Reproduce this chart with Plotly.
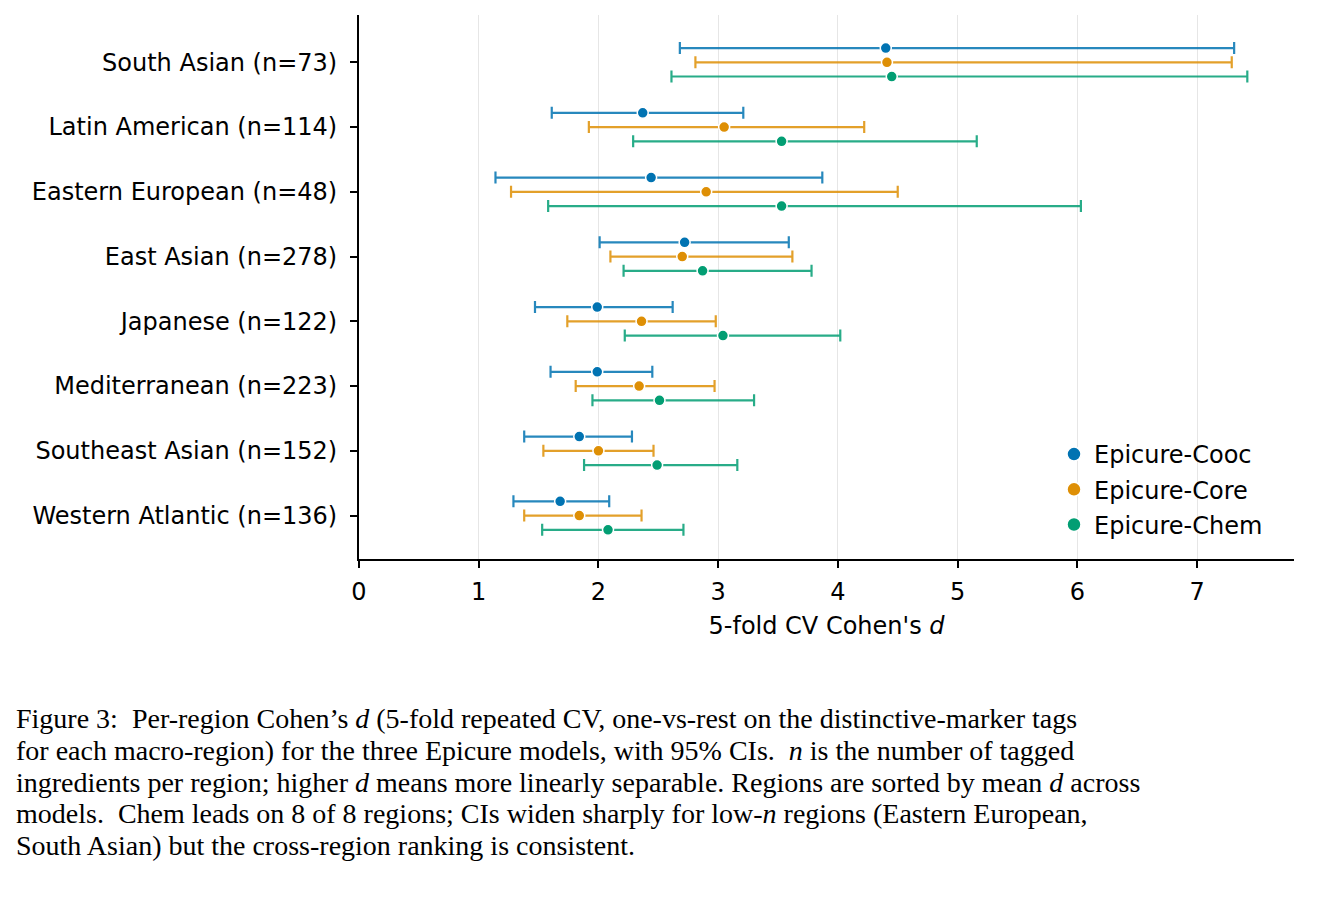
import plotly.graph_objects as go

regions = ["South Asian (n=73)", "Latin American (n=114)", "Eastern European (n=48)",
           "East Asian (n=278)", "Japanese (n=122)", "Mediterranean (n=223)",
           "Southeast Asian (n=152)", "Western Atlantic (n=136)"]

models = ["Epicure-Cooc", "Epicure-Core", "Epicure-Chem"]

cooc_mean = [4.40, 2.37, 2.44, 2.72, 1.99, 1.99, 1.84, 1.68]
cooc_low  = [2.68, 1.61, 1.14, 2.01, 1.47, 1.60, 1.38, 1.29]
cooc_high = [7.31, 3.21, 3.87, 3.59, 2.62, 2.45, 2.28, 2.09]

core_mean = [4.41, 3.05, 2.90, 2.70, 2.36, 2.34, 2.00, 1.84]
core_low  = [2.81, 1.92, 1.27, 2.10, 1.74, 1.81, 1.54, 1.38]
core_high = [7.29, 4.22, 4.50, 3.62, 2.98, 2.97, 2.46, 2.36]

chem_mean = [4.45, 3.53, 3.53, 2.87, 3.04, 2.51, 2.49, 2.08]
chem_low  = [2.61, 2.29, 1.58, 2.21, 2.22, 1.95, 1.88, 1.53]
chem_high = [7.42, 5.16, 6.03, 3.78, 4.02, 3.30, 3.16, 2.71]

x_ticks = [0, 1, 2, 3, 4, 5, 6, 7]

caption_lines = [
    "Figure 3:  Per-region Cohen\u2019s <i>d</i> (5-fold repeated CV, one-vs-rest on the distinctive-marker tags",
    "for each macro-region) for the three Epicure models, with 95% CIs.  <i>n</i> is the number of tagged",
    "ingredients per region; higher <i>d</i> means more linearly separable. Regions are sorted by mean <i>d</i> across",
    "models.  Chem leads on 8 of 8 regions; CIs widen sharply for low-<i>n</i> regions (Eastern European,",
    "South Asian) but the cross-region ranking is consistent.",
]

colors = ["#0173B2", "#DE8F05", "#029E73"]
err_colors = ["rgba(1,115,178,0.85)", "rgba(222,143,5,0.85)", "rgba(2,158,115,0.85)"]
offsets = [0.22, 0.0, -0.22]
series = [(cooc_mean, cooc_low, cooc_high), (core_mean, core_low, core_high),
          (chem_mean, chem_low, chem_high)]

n = len(regions)
base_y = [n - 1 - i for i in range(n)]

fig = go.Figure()
for k, (m, lo, hi) in enumerate(series):
    ys = [b + offsets[k] for b in base_y]
    fig.add_trace(go.Scatter(
        x=m, y=ys, mode="markers", name=models[k], showlegend=False,
        marker=dict(color=colors[k], size=11, line=dict(color="white", width=1.5)),
        error_x=dict(type="data", symmetric=False,
                     array=[h - v for h, v in zip(hi, m)],
                     arrayminus=[v - l for v, l in zip(m, lo)],
                     color=err_colors[k], thickness=2.2, width=6),
    ))
# legend entries
for k in range(3):
    fig.add_trace(go.Scatter(
        x=[None], y=[None], mode="markers", name=models[k], legendgroup=models[k],
        marker=dict(color=colors[k], size=14, line=dict(color="white", width=1.5)),
    ))

OFF = 8  # page body margin
W, H = 1320, 891
ml, mr, mt, mb = 359 - OFF, 34, 15 - OFF, 340
pw = W - ml - mr
ph = H - mt - mb

def py(pix):
    return (H - mb - (pix - OFF)) / ph

def px(pix):
    return ((pix - OFF) - ml) / pw

fig.update_layout(
    width=W, height=H,
    margin=dict(l=ml, r=mr, t=mt, b=mb, autoexpand=False),
    paper_bgcolor="white", plot_bgcolor="white",
    font=dict(family="DejaVu Sans", size=24, color="black"),
    showlegend=True,
    legend=dict(x=px(1054), y=py(432), xanchor="left", yanchor="top",
                bgcolor="rgba(0,0,0,0)", font=dict(size=24), itemsizing="trace",
                tracegroupgap=1),
    xaxis=dict(range=[0, 7.81], tickvals=x_ticks,
               showgrid=True, gridcolor="#e6e6e6", gridwidth=1,
               showline=True, linecolor="black", linewidth=2,
               ticks="outside", ticklen=7, tickwidth=1.5, tickcolor="black",
               zeroline=False, tickfont=dict(size=24), ticklabelstandoff=3,
               title=dict(text="5-fold CV Cohen's <i>d</i>", font=dict(size=24), standoff=12)),
    yaxis=dict(range=[-0.67, 7.73], tickvals=base_y, ticktext=regions,
               showgrid=False, showline=True, linecolor="black", linewidth=2,
               ticks="outside", ticklen=7, tickwidth=1.5, tickcolor="black",
               zeroline=False, tickfont=dict(size=24), ticklabelstandoff=8),
)

line_pix = [718, 750, 782, 813, 845]
for txt, yp in zip(caption_lines, line_pix):
    fig.add_annotation(text=txt, xref="paper", yref="paper",
                       x=px(14), y=py(yp),
                       xanchor="left", yanchor="middle", showarrow=False,
                       font=dict(family="Liberation Serif", size=28, color="black"))

fig.write_html("out.html")
